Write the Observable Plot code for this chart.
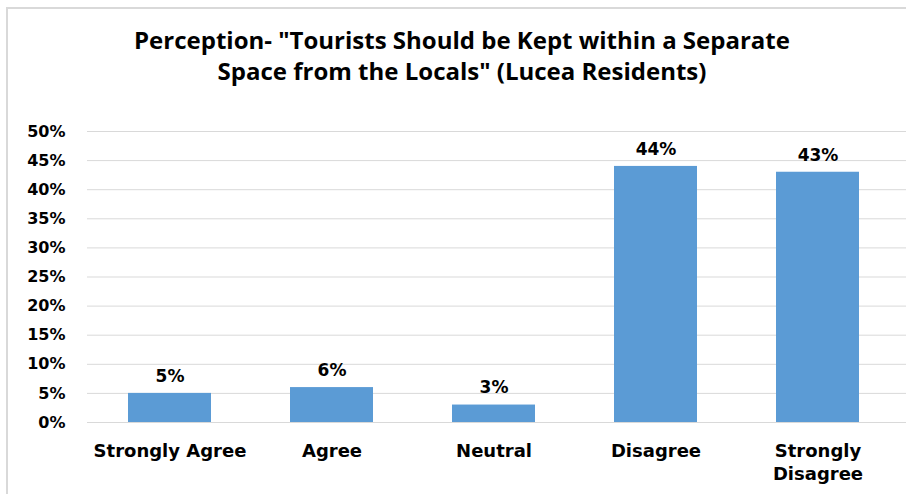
<!DOCTYPE html>
<html>
<head>
<meta charset="utf-8">
<script src="https://cdn.jsdelivr.net/npm/d3@7"></script>
<script src="https://cdn.jsdelivr.net/npm/@observablehq/plot@0.6"></script>
<style>
  html, body { margin: 0; padding: 0; background: #fff; }
  #wrap { position: relative; width: 906px; height: 494px; overflow: hidden; background: #fff; }
  #frame { position: absolute; left: 6px; top: 7px; width: 920px; height: 500px;
           border-left: 2px solid #d9d9d9; border-top: 2px solid #d9d9d9; box-sizing: border-box; }
  #title { position: absolute; left: 0; top: 24px; width: 924px; text-align: center;
           font-family: "Open Sans", sans-serif; font-weight: bold; font-size: 24px;
           line-height: 31px; color: #000; }
  #chart { position: absolute; left: 0; top: 100px; }
</style>
</head>
<body>
<div id="wrap">
  <div id="frame"></div>
  <div id="title">Perception- "Tourists Should be Kept within a Separate<br>Space from the Locals" (Lucea Residents)</div>
  <div id="chart"></div>
</div>
<script>
const categories = ["Strongly Agree", "Agree", "Neutral", "Disagree", "Strongly Disagree"];
const values = [5, 6, 3, 44, 43];
const labels = ["5%", "6%", "3%", "44%", "43%"];
const yTicks = [0, 5, 10, 15, 20, 25, 30, 35, 40, 45, 50];
const xTickLabels = ["Strongly Agree", "Agree", "Neutral", "Disagree", "Strongly\nDisagree"];

const data = categories.map((c, i) => ({category: c, value: values[i], label: labels[i]}));

const plot = Plot.plot({
  width: 906,
  height: 394,
  marginTop: 31,
  marginBottom: 72,
  marginLeft: 87,
  marginRight: 0,
  style: {fontFamily: "DejaVu Sans, sans-serif", fontWeight: "bold", fontSize: "16px", color: "#000", background: "transparent"},
  x: {domain: categories, range: [88, 898], paddingInner: 0.49, paddingOuter: 0.245},
  y: {domain: [0, 50]},
  marks: [
    Plot.ruleY(yTicks, {stroke: "#d9d9d9", strokeWidth: 1}),
    Plot.barY(data, {x: "category", y: "value", fill: "#5b9bd5"}),
    Plot.text(data, {x: "category", y: "value", text: "label", dy: -17, fontSize: 17, fontWeight: "bold", fill: "#000"}),
    Plot.axisY({ticks: yTicks, tickFormat: d => d + "%", tickSize: 0, tickPadding: 22, fontSize: 16, fontWeight: "bold", label: null}),
    Plot.axisX({tickSize: 0, tickPadding: 18, tickFormat: (d, i) => xTickLabels[categories.indexOf(d)], fontSize: 18, fontWeight: "bold", lineHeight: 1.28, label: null})
  ]
});
document.getElementById("chart").appendChild(plot);
</script>
</body>
</html>
